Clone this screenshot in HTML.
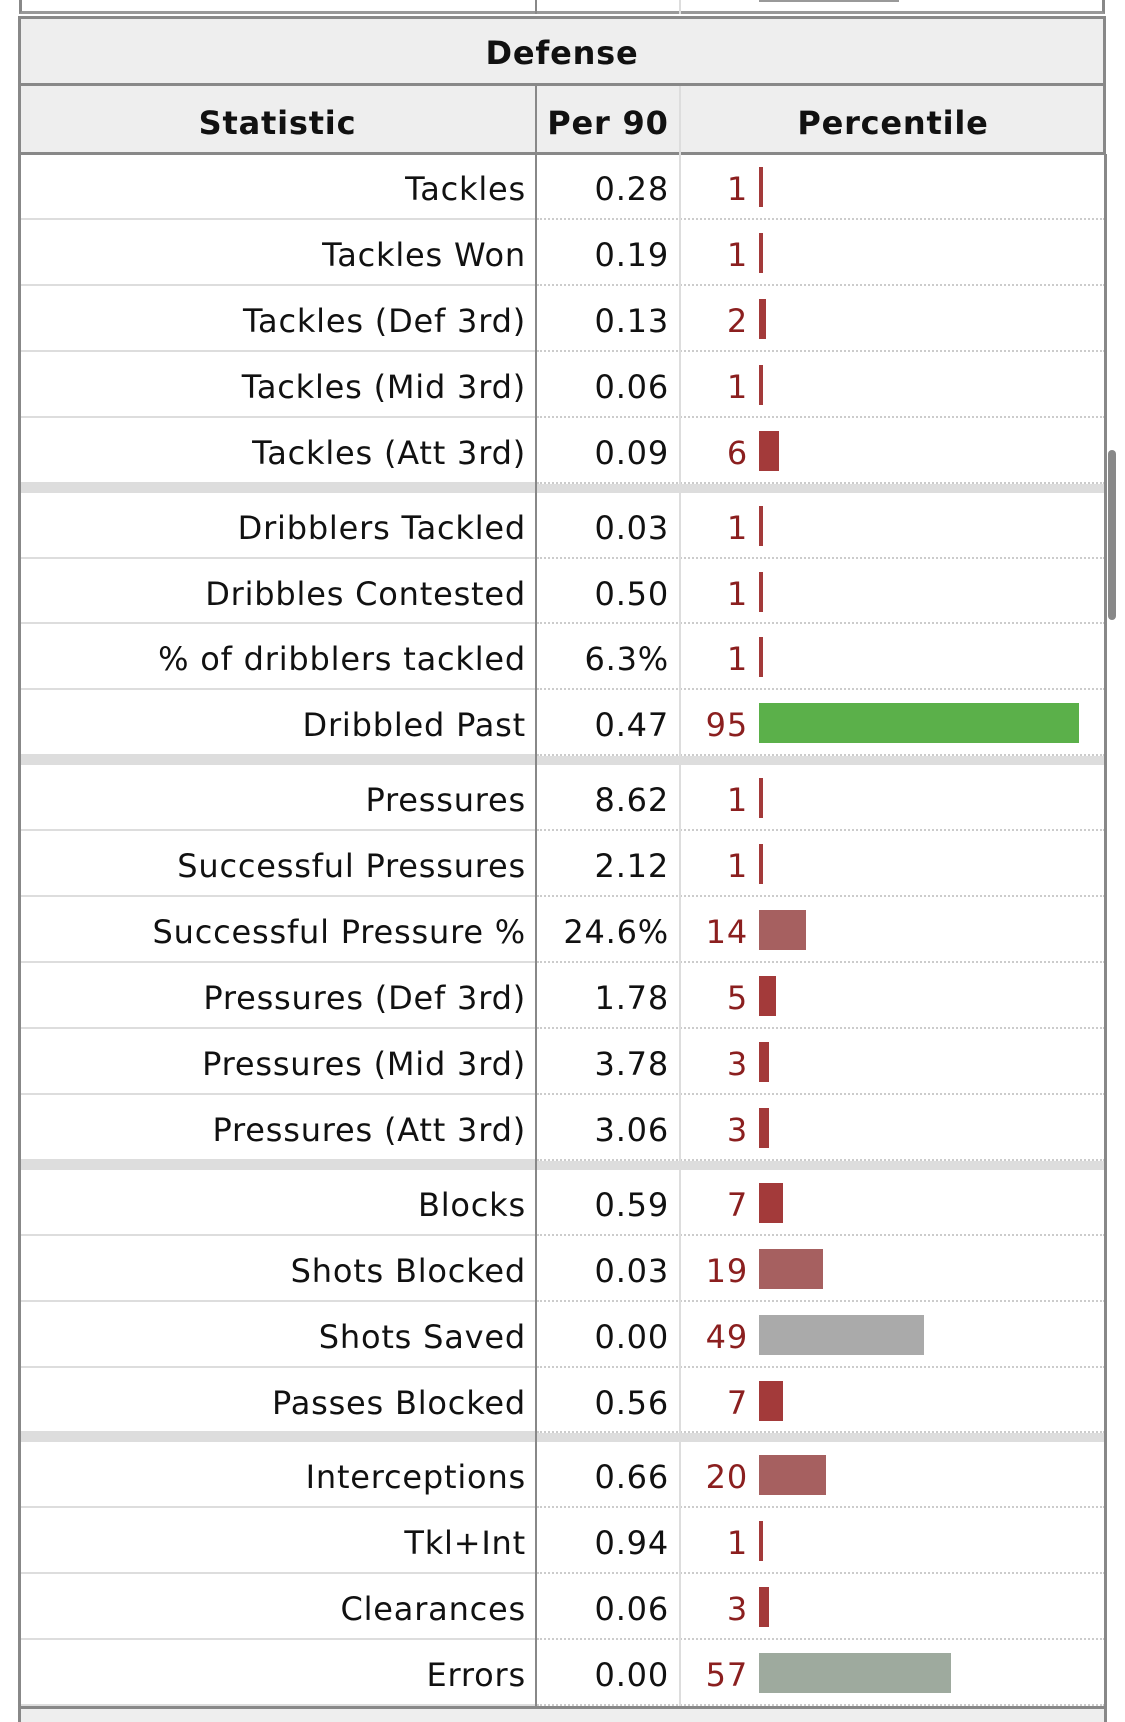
<!DOCTYPE html>
<html><head><meta charset="utf-8"><style>
body{margin:0;width:1125px;height:1722px;background:#fff;position:relative;overflow:hidden;font-family:"DejaVu Sans","Liberation Sans",sans-serif;}
.a{position:absolute;box-sizing:border-box;}
.t{position:absolute;font-size:32px;line-height:66px;color:#111;white-space:nowrap;letter-spacing:0.8px;}
.n{color:#8b1f1f;}
</style></head><body>
<div class="a" style="left:19px;top:0;width:1086px;height:14px;border-left:3px solid #888;border-right:3px solid #888;border-bottom:3px solid #999"></div>
<div class="a" style="left:535px;top:0;width:2px;height:14px;background:#888"></div>
<div class="a" style="left:679px;top:0;width:2px;height:14px;background:#ddd"></div>
<div class="a" style="left:759px;top:0;width:140px;height:2px;background:#999"></div>
<div class="a" style="left:18px;top:16px;width:1088px;height:70px;background:#eee;border:3px solid #888"></div>
<div class="t" style="left:18px;width:1088px;top:20px;text-align:center;font-weight:bold;font-size:32px">Defense</div>
<div class="a" style="left:18px;top:86px;width:1088px;height:69px;background:#eee;border-left:3px solid #888;border-right:3px solid #888;border-bottom:3px solid #888"></div>
<div class="a" style="left:535px;top:86px;width:2px;height:68px;background:#888"></div>
<div class="a" style="left:679px;top:86px;width:2px;height:68px;background:#ddd"></div>
<div class="t" style="left:19px;width:517px;top:90px;text-align:center;font-weight:bold">Statistic</div>
<div class="t" style="left:537px;width:142px;top:90px;text-align:center;font-weight:bold">Per 90</div>
<div class="t" style="left:681px;width:424px;top:90px;text-align:center;font-weight:bold">Percentile</div>
<div id="rows"></div>
<div class="a" style="left:1108px;top:450px;width:8px;height:170px;background:#888;border-radius:4px"></div>
<script>
var g=[
[["Tackles","0.28",1],["Tackles Won","0.19",1],["Tackles (Def 3rd)","0.13",2],["Tackles (Mid 3rd)","0.06",1],["Tackles (Att 3rd)","0.09",6]],
[["Dribblers Tackled","0.03",1],["Dribbles Contested","0.50",1],["% of dribblers tackled","6.3%",1],["Dribbled Past","0.47",95]],
[["Pressures","8.62",1],["Successful Pressures","2.12",1],["Successful Pressure %","24.6%",14],["Pressures (Def 3rd)","1.78",5],["Pressures (Mid 3rd)","3.78",3],["Pressures (Att 3rd)","3.06",3]],
[["Blocks","0.59",7],["Shots Blocked","0.03",19],["Shots Saved","0.00",49],["Passes Blocked","0.56",7]],
[["Interceptions","0.66",20],["Tkl+Int","0.94",1],["Clearances","0.06",3],["Errors","0.00",57]]];
var cols={1:"#a33a3a",2:"#a33a3a",3:"#a33a3a",5:"#a33a3a",6:"#a33a3a",7:"#a33a3a",14:"#a66060",19:"#a66060",20:"#a66060",49:"#aaaaaa",57:"#9eaa9e",95:"#5bb04a"};
var h="",y=154,R=65.92;
g.forEach(function(gr,gi){
 if(gi>0){h+='<div class="a" style="left:19px;top:'+y+'px;width:1086px;height:9px;background:#ddd"></div>';y+=9;}
 gr.forEach(function(r){
  var w=r[2]==1?4:Math.max(4,r[2]*3.37);
  h+='<div class="t" style="left:19px;width:507px;top:'+(y+2)+'px;text-align:right">'+r[0]+'</div>';
  h+='<div class="t" style="left:537px;width:132px;top:'+(y+2)+'px;text-align:right">'+r[1]+'</div>';
  h+='<div class="t n" style="left:681px;width:67px;top:'+(y+2)+'px;text-align:right">'+r[2]+'</div>';
  h+='<div class="a" style="left:759px;top:'+(y+13)+'px;width:'+w+'px;height:40px;background:'+cols[r[2]]+'"></div>';
  y+=R;
  h+='<div class="a" style="left:19px;top:'+(y-2)+'px;width:517px;height:2px;background:#ddd"></div>';
  h+='<div class="a" style="left:537px;top:'+(y-2)+'px;width:568px;height:0;border-top:2px dotted #ccc"></div>';
 });
});
var top0=154;
h+='<div class="a" style="left:18px;top:'+top0+'px;width:3px;height:'+(y-top0)+'px;background:#888"></div>';
h+='<div class="a" style="left:1104px;top:'+top0+'px;width:3px;height:'+(y-top0)+'px;background:#888"></div>';
h+='<div class="a" style="left:535px;top:'+top0+'px;width:2px;height:'+(y-top0)+'px;background:#888"></div>';
h+='<div class="a" style="left:679px;top:'+top0+'px;width:2px;height:'+(y-top0)+'px;background:#ddd"></div>';
h+='<div class="a" style="left:18px;top:'+y+'px;width:1089px;height:'+(1722-y)+'px;background:#eee;border-top:3px solid #888;border-left:3px solid #888;border-right:3px solid #888"></div>';
document.getElementById("rows").innerHTML=h;
</script>
</body></html>
